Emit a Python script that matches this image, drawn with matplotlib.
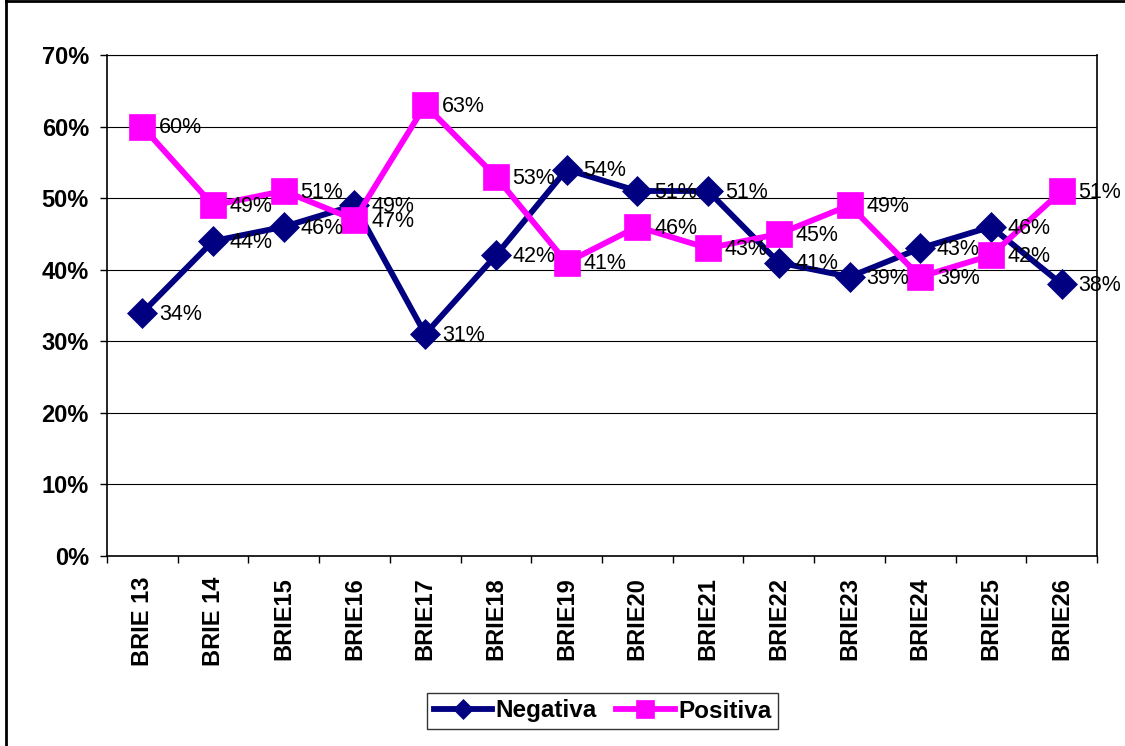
import matplotlib.pyplot as plt
from matplotlib.lines import Line2D

plt.rcParams['font.family'] = ['Liberation Sans', 'DejaVu Sans']

categories = ["BRIE 13", "BRIE 14", "BRIE15", "BRIE16", "BRIE17", "BRIE18", "BRIE19",
              "BRIE20", "BRIE21", "BRIE22", "BRIE23", "BRIE24", "BRIE25", "BRIE26"]
negativa = [34, 44, 46, 49, 31, 42, 54, 51, 51, 41, 39, 43, 46, 38]
positiva = [60, 49, 51, 47, 63, 53, 41, 46, 43, 45, 49, 39, 42, 51]
y_ticks = [0, 10, 20, 30, 40, 50, 60, 70]

navy = "#000080"
magenta = "#FF00FF"

fig = plt.figure(figsize=(11.25, 7.46), dpi=100)
ax = fig.add_axes([107 / 1125, 1 - 556 / 746, 990 / 1125, 501 / 746])

x = list(range(len(categories)))
ax.plot(x, negativa, color=navy, lw=4.2, marker="D", ms=15, mec=navy, mew=0.5,
        label="Negativa", zorder=3)
ax.plot(x, positiva, color=magenta, lw=4.2, marker="s", ms=18.5, mec=magenta, mew=0.5,
        label="Positiva", zorder=4)

for xi, v in zip(x, negativa):
    ax.annotate(f"{v}%", (xi, v), xytext=(12, -1), textcoords="offset points",
                ha="left", va="center", fontsize=15.5, zorder=5)
for xi, v in zip(x, positiva):
    ax.annotate(f"{v}%", (xi, v), xytext=(12, -1), textcoords="offset points",
                ha="left", va="center", fontsize=15.5, zorder=5)

ax.set_xlim(-0.5, len(categories) - 0.5)
ax.set_ylim(0, 70)
ax.set_yticks(y_ticks)
ax.set_yticklabels([f"{t}%" for t in y_ticks], fontsize=17, fontweight="bold")
ax.yaxis.grid(True, color="black", lw=0.8)
ax.set_axisbelow(True)

ax.set_xticks(x)
ax.set_xticklabels(categories, rotation=90, fontsize=17, fontweight="bold", va="top")
ax.set_xticks([i - 0.5 for i in range(len(categories) + 1)], minor=True)
ax.tick_params(axis="x", which="major", length=0, pad=15)
ax.tick_params(axis="x", which="minor", length=5, width=1, direction="out")
ax.tick_params(axis="y", length=5, width=1, direction="out", pad=8)

for s in ax.spines.values():
    s.set_color("black")
    s.set_linewidth(1.2)
ax.spines["top"].set_linewidth(0.8)

leg = ax.legend(loc="center", bbox_to_anchor=(602.5 / 1125, 1 - 711 / 746),
                bbox_transform=fig.transFigure, ncol=2, frameon=True, fancybox=False,
                prop={"size": 17.5, "weight": "bold"}, handlelength=2.4, markerscale=0.7,
                handletextpad=0.15, columnspacing=0.8, borderpad=0.25, borderaxespad=0)
leg.get_frame().set_edgecolor("black")
leg.get_frame().set_linewidth(1)

# outer chart border (left and top edges are visible)
fig.add_artist(Line2D([6 / 1125, 6 / 1125], [0, 1], transform=fig.transFigure,
                      color="black", lw=2))
fig.add_artist(Line2D([6 / 1125, 1], [1 - 1.2 / 746, 1 - 1.2 / 746],
                      transform=fig.transFigure, color="black", lw=2))

fig.savefig("out.png", dpi=100)
